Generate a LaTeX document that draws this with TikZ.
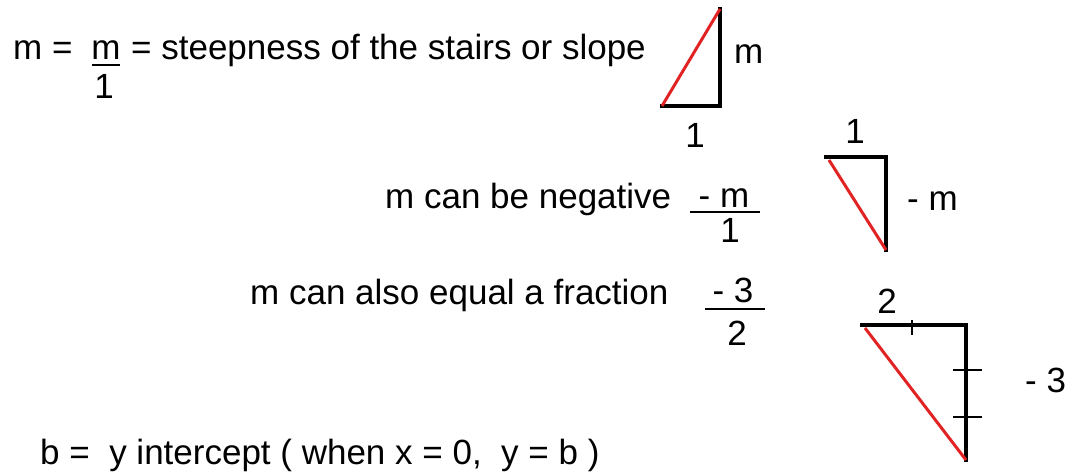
\documentclass[tikz,border=0pt]{standalone}
\usepackage{fontspec}
\setmainfont{Liberation Sans}
\begin{document}
\begin{tikzpicture}[x=1pt,y=-1pt,
  txt/.style={anchor=base west,inner sep=0pt,font=\fontsize{35}{41}\selectfont},
  ctxt/.style={anchor=base,inner sep=0pt,font=\fontsize{35}{41}\selectfont},
  leg/.style={line width=3.2pt,black,line cap=rect},
  hyp/.style={line width=3pt,draw={rgb,255:red,225;green,35;blue,35}},
  bar/.style={line width=2pt,black},
  tick/.style={line width=2.6pt,black}]
\useasboundingbox (0,0) rectangle (1068,474);
% line 1
\node[txt] (t1a) at (13,59) {m =};
\node[ctxt] (t1m) at (106,59) {m};
\draw[bar] (92,65) -- (120,65);
\node[ctxt] (t1one) at (104,98) {1};
\node[txt] (t1b) at (131,59) {= steepness of the stairs or slope};
% triangle 1
\coordinate (a1) at (662,106);
\coordinate (a2) at (720,106);
\coordinate (a3) at (720,9);
\draw[leg] (a1) -- (a2) -- (a3);
\draw[hyp] (a1) -- (a3);
\node[txt] (lm1) at (734,63) {m};
\node[ctxt] (lone1) at (695,147) {1};
% line 2
\node[txt] (t2) at (385,208) {m can be negative};
\node[ctxt] (f2n) at (724,207) {- m};
\draw[bar] (690,212) -- (760,212);
\node[ctxt] (f2d) at (730,242) {1};
% triangle 2
\coordinate (b1) at (826,157);
\coordinate (b2) at (886,157);
\coordinate (b3) at (886,250);
\draw[leg] (b1) -- (b2) -- (b3);
\draw[hyp] (829,160) -- (b3);
\node[ctxt] (lone2) at (855,143) {1};
\node[txt] (lm2) at (907,210) {- m};
% line 3
\node[txt] (t3) at (250,304) {m can also equal a fraction};
\node[ctxt] (f3n) at (733,302) {- 3};
\draw[bar] (705,309) -- (765,309);
\node[ctxt] (f3d) at (737,345) {2};
% triangle 3
\coordinate (c1) at (862,325);
\coordinate (c2) at (966,325);
\coordinate (c3) at (966,460);
\draw[leg] (c1) -- (c2) -- (c3);
\draw[hyp] (865,328) -- (c3);
\draw[tick] (912,320) -- (912,335);
\draw[tick] (953,370) -- (982,370);
\draw[tick] (953,417) -- (982,417);
\node[ctxt] (ltwo3) at (887,313) {2};
\node[txt] (lm3) at (1025,392) {- 3};
% line 4
\node[txt] (t4) at (40,464) {b =\ \ y intercept ( when x = 0,\ \ y = b )};
\end{tikzpicture}
\end{document}
